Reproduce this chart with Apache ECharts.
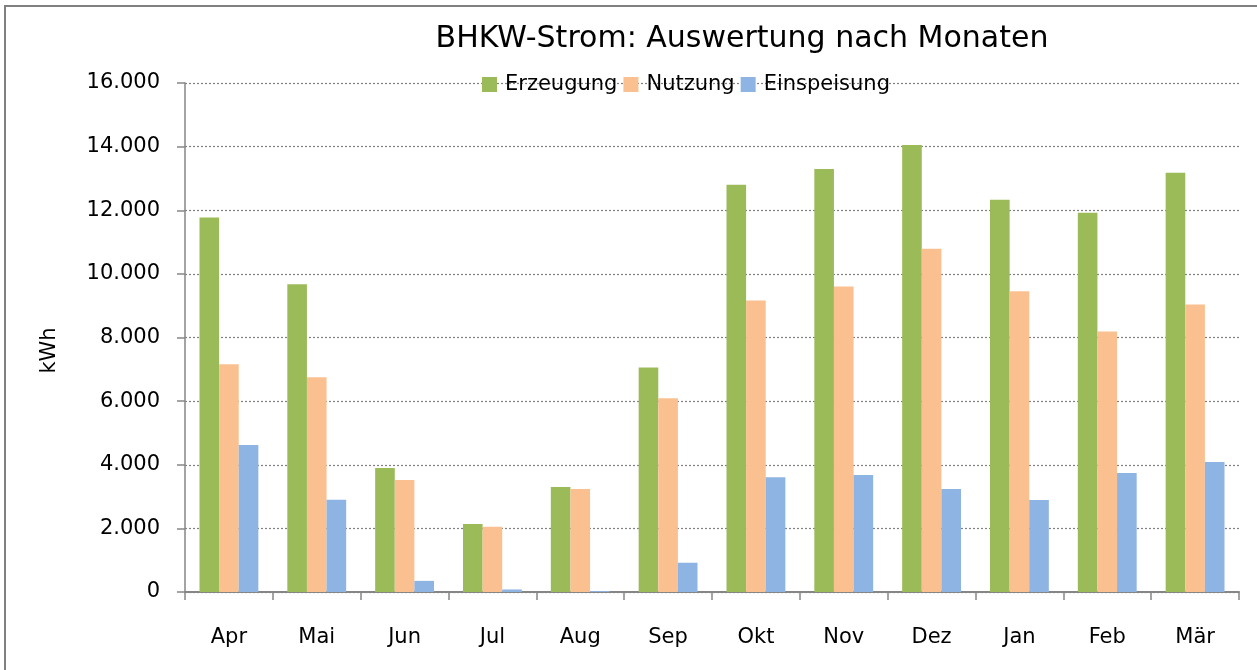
<!DOCTYPE html>
<html>
<head>
<meta charset="utf-8">
<title>BHKW-Strom</title>
<script src="https://cdn.jsdelivr.net/npm/echarts@6/dist/echarts.min.js"></script>
<style>
  html, body { margin: 0; padding: 0; background: #fff; }
  #wrap { position: relative; width: 1257px; height: 670px; }
  #chart { position: absolute; left: 0; top: 0; width: 1257px; height: 670px; }
  #frame {
    position: absolute; left: 4px; top: 5px; right: 0; bottom: 0;
    border-left: 2px solid #808080; border-top: 2px solid #808080;
    pointer-events: none;
  }
</style>
</head>
<body>
<div id="wrap">
  <div id="chart"></div>
  <div id="frame"></div>
</div>
<script>
// Monate (Apr - Mär)
var months = ['Apr', 'Mai', 'Jun', 'Jul', 'Aug', 'Sep', 'Okt', 'Nov', 'Dez', 'Jan', 'Feb', 'Mär']

// Werte in kWh
var erzeugung = [11770, 9670, 3900, 2140, 3300, 7060, 12800, 13300, 14050, 12330, 11920, 13180]
var nutzung = [7160, 6750, 3520, 2050, 3240, 6090, 9160, 9600, 10790, 9450, 8190, 9040]
var einspeisung = [4620, 2900, 350, 80, 30, 920, 3610, 3680, 3240, 2890, 3740, 4090]

var seriesNames = ['Erzeugung', 'Nutzung', 'Einspeisung']
var seriesColors = ['#9BBB59', '#FAC090', '#8EB4E3']

var yMin = 0
var yMax = 16000
var yStep = 2000

var font = 'DejaVu Sans'

// Tausenderpunkt wie im Original
function fmt (v) {
  return String(v).replace(/\B(?=(\d{3})+(?!\d))/g, '.')
}

var chart = echarts.init(document.getElementById('chart'))

var option = {
  animation: false,
  backgroundColor: '#fff',
  color: seriesColors,
  title: {
    text: 'BHKW-Strom: Auswertung nach Monaten',
    left: 737,
    textAlign: 'center',
    top: 19,
    textStyle: {
      fontFamily: font,
      fontSize: 30,
      fontWeight: 'normal',
      color: '#000'
    }
  },
  legend: {
    data: seriesNames,
    left: 477,
    top: 69,
    itemWidth: 15,
    itemHeight: 15,
    itemGap: 6,
    icon: 'rect',
    textStyle: {
      fontFamily: font,
      fontSize: 21,
      color: '#000',
      padding: [0, 0, 0, 3]
    }
  },
  grid: {
    left: 185,
    right: 18,
    top: 83,
    bottom: 78,
    containLabel: false
  },
  xAxis: {
    type: 'category',
    data: months,
    axisLine: { lineStyle: { color: '#868686', width: 2 } },
    axisTick: { show: true, length: 8, lineStyle: { color: '#868686', width: 1.5 } },
    axisLabel: {
      margin: 35,
      fontFamily: font,
      fontSize: 21,
      color: '#000'
    }
  },
  yAxis: {
    type: 'value',
    min: yMin,
    max: yMax,
    interval: yStep,
    name: 'kWh',
    nameLocation: 'middle',
    nameGap: 125,
    nameRotate: 90,
    nameTextStyle: {
      fontFamily: font,
      fontSize: 21,
      color: '#000',
      padding: [0, 26, 0, 0]
    },
    axisLine: { show: true, lineStyle: { color: '#868686', width: 1.5 } },
    axisTick: { show: true, length: 8, lineStyle: { color: '#868686', width: 1.5 } },
    axisLabel: {
      margin: 25,
      fontFamily: font,
      fontSize: 21,
      color: '#000',
      formatter: fmt
    },
    splitLine: {
      show: true,
      lineStyle: { color: '#808080', type: [2, 2], width: 1.2 }
    }
  },
  series: [
    {
      name: seriesNames[0],
      type: 'bar',
      data: erzeugung,
      barGap: 0,
      barCategoryGap: '33%'
    },
    {
      name: seriesNames[1],
      type: 'bar',
      data: nutzung,
      barGap: 0,
      barCategoryGap: '33%'
    },
    {
      name: seriesNames[2],
      type: 'bar',
      data: einspeisung,
      barGap: 0,
      barCategoryGap: '33%'
    }
  ]
}

chart.setOption(option)
</script>
</body>
</html>
